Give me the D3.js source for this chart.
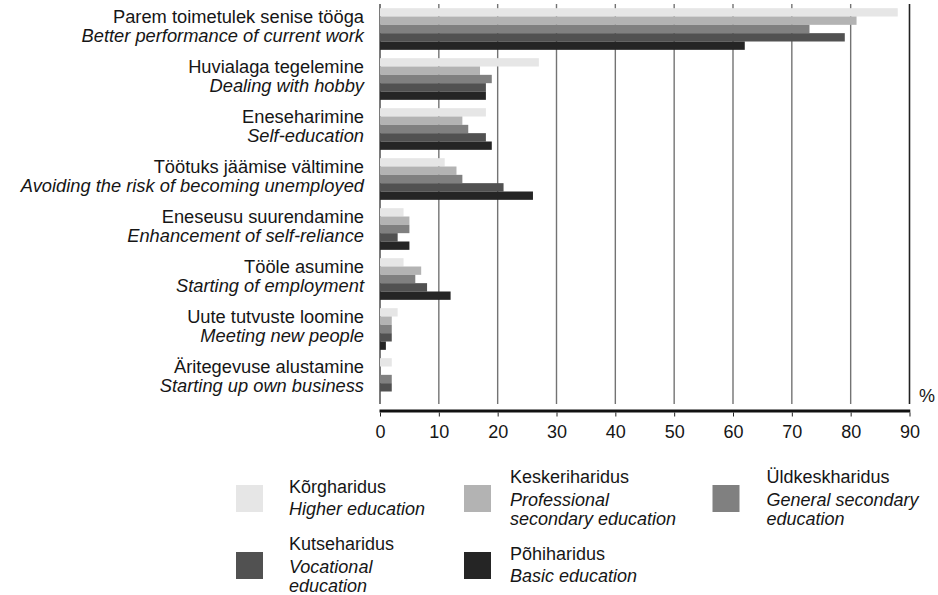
<!DOCTYPE html>
<html>
<head>
<meta charset="utf-8">
<script src="https://cdn.jsdelivr.net/npm/d3@7"></script>
<style>
  html, body { margin: 0; padding: 0; background: #fff; }
  svg { display: block; }
  text { font-family: "Liberation Sans", Arial, Helvetica, sans-serif; fill: #161616; }
</style>
</head>
<body>
<svg id="chart" width="938" height="595"></svg>
<script>
// ---- data ----
const categoriesEt = [
  "Parem toimetulek senise tööga",
  "Huvialaga tegelemine",
  "Eneseharimine",
  "Töötuks jäämise vältimine",
  "Eneseusu suurendamine",
  "Tööle asumine",
  "Uute tutvuste loomine",
  "Äritegevuse alustamine"
];
const categoriesEn = [
  "Better performance of current work",
  "Dealing with hobby",
  "Self-education",
  "Avoiding the risk of becoming unemployed",
  "Enhancement of self-reliance",
  "Starting of employment",
  "Meeting new people",
  "Starting up own business"
];
const seriesEt = ["Kõrgharidus", "Keskeriharidus", "Üldkeskharidus", "Kutseharidus", "Põhiharidus"];
const seriesEn = [
  ["Higher education"],
  ["Professional", "secondary education"],
  ["General secondary", "education"],
  ["Vocational", "education"],
  ["Basic education"]
];
const seriesColors = ["#e6e6e6", "#b3b3b3", "#808080", "#515151", "#252525"];

const higherEdu     = [88, 27, 18, 11, 4, 4, 3, 2];
const professional  = [81, 17, 14, 13, 5, 7, 2, 0];
const generalSec    = [73, 19, 15, 14, 5, 6, 2, 2];
const vocational    = [79, 18, 18, 21, 3, 8, 2, 2];
const basicEdu      = [62, 18, 19, 26, 5, 12, 1, 0];
const seriesValues = [higherEdu, professional, generalSec, vocational, basicEdu];

const xTicks = [0, 10, 20, 30, 40, 50, 60, 70, 80, 90];
const unitLabel = "%";

// ---- layout ----
const svg = d3.select("#chart");
const x0 = 380, x1 = 909.5, yTop = 4, yBot = 404, axisY = 411;

const x = d3.scaleLinear().domain([0, 90]).range([x0, x1]);
const y = d3.scaleBand().domain(d3.range(categoriesEt.length)).range([yTop, yBot]).padding(0);
const yInner = d3.scaleBand().domain(d3.range(seriesEt.length)).range([0, y.bandwidth()]).paddingInner(0).paddingOuter(0.5);

// gridlines
svg.append("g").selectAll("line")
  .data(xTicks.filter(t => t > 0))
  .join("line")
  .attr("x1", d => x(d)).attr("x2", d => x(d))
  .attr("y1", yTop).attr("y2", yBot)
  .attr("stroke", d => d === 90 ? "#222" : "#737373")
  .attr("stroke-width", d => d === 90 ? 1.6 : 1.4);

// left axis line
svg.append("line")
  .attr("x1", x(0)).attr("x2", x(0))
  .attr("y1", yTop).attr("y2", yBot)
  .attr("stroke", "#222").attr("stroke-width", 1.2);

// bars
const groups = svg.append("g").selectAll("g")
  .data(categoriesEt.map((c, i) => i))
  .join("g")
  .attr("transform", i => `translate(0,${y(i)})`);

groups.selectAll("rect")
  .data(i => seriesValues.map((vals, s) => ({ s, v: vals[i] })))
  .join("rect")
  .attr("x", x(0))
  .attr("y", d => yInner(d.s))
  .attr("width", d => x(d.v) - x(0))
  .attr("height", yInner.bandwidth())
  .attr("fill", d => seriesColors[d.s]);

// category labels
const labels = svg.append("g").selectAll("g")
  .data(categoriesEt.map((c, i) => i))
  .join("g")
  .attr("transform", i => `translate(364,${y(i) + y.bandwidth() / 2})`);
labels.append("text")
  .attr("text-anchor", "end").attr("y", -6)
  .style("font-size", "18.3px")
  .text(i => categoriesEt[i]);
labels.append("text")
  .attr("text-anchor", "end").attr("y", 13)
  .style("font-size", "18.3px").style("font-style", "italic")
  .text(i => categoriesEn[i]);

// bottom axis
const xAxis = d3.axisBottom(x).tickValues(xTicks).tickSize(4).tickPadding(9).tickFormat(d3.format("d"));
const gx = svg.append("g").attr("transform", `translate(0,${axisY + 1.5})`).call(xAxis);
gx.select(".domain").remove();
gx.selectAll(".tick line").attr("stroke", "#222").attr("stroke-width", 1);
gx.selectAll(".tick text").style("font-size", "18px").attr("fill", "#161616")
  .style("font-family", "'Liberation Sans', Arial, sans-serif");
svg.append("line")
  .attr("x1", x(0) - 0.5).attr("x2", x(90) + 0.8)
  .attr("y1", axisY).attr("y2", axisY)
  .attr("stroke", "#111").attr("stroke-width", 3);

svg.append("text")
  .attr("x", 927).attr("y", 402).attr("text-anchor", "middle")
  .style("font-size", "18px").text(unitLabel);

// legend
const legSwatchX = [236, 464, 712.5];
const legTextX = [289, 510, 766.5];
const legRowY = [485, 552];
const sw = 27;
const gapTitle = 22.5, gapLine = 19;
const leg = svg.append("g").selectAll("g")
  .data(seriesEt.map((s, i) => i))
  .join("g");
leg.append("rect")
  .attr("x", i => legSwatchX[i % 3])
  .attr("y", i => legRowY[Math.floor(i / 3)])
  .attr("width", sw).attr("height", sw)
  .attr("fill", i => seriesColors[i]);
leg.each(function (i) {
  const g = d3.select(this);
  const c = legRowY[Math.floor(i / 3)] + sw / 2;
  const k = seriesEn[i].length;
  const H = gapTitle + gapLine * (k - 1);
  const top = c + 5.4 - H / 2;
  g.append("text")
    .attr("x", legTextX[i % 3]).attr("y", top)
    .style("font-size", "18px")
    .text(seriesEt[i]);
  seriesEn[i].forEach((line, j) => {
    g.append("text")
      .attr("x", legTextX[i % 3]).attr("y", top + gapTitle + gapLine * j)
      .style("font-size", "18px").style("font-style", "italic")
      .text(line);
  });
});
</script>
</body>
</html>
